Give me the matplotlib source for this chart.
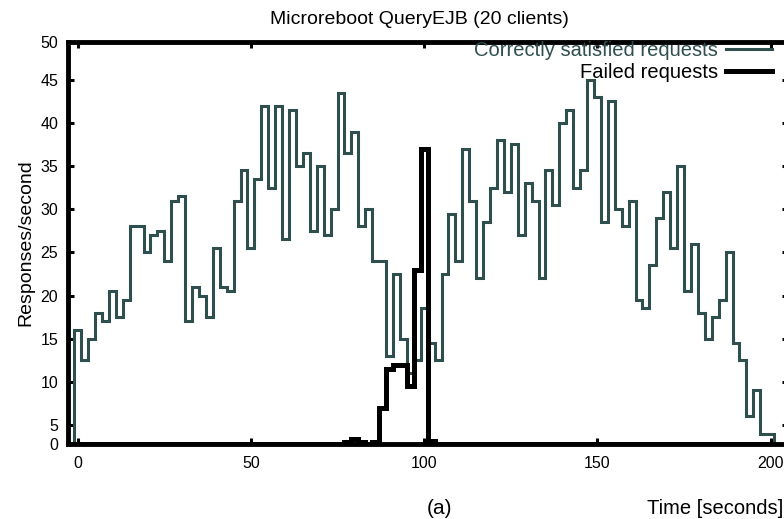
import numpy as np
import matplotlib.pyplot as plt

plt.rcParams['font.family'] = ['Liberation Sans', 'DejaVu Sans']

# time of each 2 s bin (centre), seconds
seconds = np.arange(0, 201, 2)

# correctly satisfied requests, responses/second
correct = [16, 12.5, 15, 18, 17, 20.5, 17.5, 19.5, 28, 28,
           25, 27, 27.5, 24, 31, 31.5, 17, 21, 20, 17.5,
           25.5, 21, 20.5, 31, 34.5, 25.5, 33.5, 42, 32.5, 42,
           26.5, 41.5, 35, 36.5, 27.5, 35, 27, 30, 43.5, 36.5,
           39, 28, 30, 24, 24, 13, 22.5, 15, 11, 12.5,
           18.5, 14.5, 12.5, 22.5, 29.5, 24, 37, 31, 22, 28.5,
           32.5, 38, 32, 37.5, 27, 33, 31, 22, 34.5, 30.5,
           40, 41.5, 32.5, 34.5, 45, 43, 28.5, 42.5, 30, 28,
           31, 19.5, 18.5, 23.5, 29, 32, 25.5, 35, 20.5, 26,
           18, 15, 17.5, 19.5, 25, 14.5, 12.5, 6, 9, 2.5,
           2.5]

# failed requests, responses/second
failed = [0, 0, 0, 0, 0, 0, 0, 0, 0, 0,
          0, 0, 0, 0, 0, 0, 0, 0, 0, 0,
          0, 0, 0, 0, 0, 0, 0, 0, 0, 0,
          0, 0, 0, 0, 0, 0, 0, 0, 0, 0.5,
          1.2, 0.5, 0, 0.5, 7, 11.5, 12, 12, 9.5, 23,
          37, 0.7, 0, 0, 0, 0, 0, 0, 0, 0,
          0, 0, 0, 0, 0, 0, 0, 0, 0, 0,
          0, 0, 0, 0, 0, 0, 0, 0, 0, 0,
          0, 0, 0, 0, 0, 0, 0, 0, 0, 0,
          0, 0, 0, 0, 0, 0, 0, 0, 0, 0,
          0]

edges = np.append(seconds - 1, seconds[-1] + 1)
gray = '#2F4F4F'

# the scanned y axis is squeezed at both ends
y_vals = [0, 5, 45, 50]
y_pos = [0, 19, 364, 402]
def fwd(v):
    return np.interp(v, y_vals, y_pos)
def inv(p):
    return np.interp(p, y_pos, y_vals)

fig = plt.figure(figsize=(7.84, 5.19), dpi=100)
ax = fig.add_axes([68/784, 75/519, 720/784, 402.3/519])

ax.stairs(correct, edges, baseline=0, color=gray, lw=2.2, zorder=2)
ax.stairs(failed, edges, baseline=0, color='black', lw=3.6, zorder=3)

ax.set_yscale('function', functions=(fwd, inv))
ax.set_xlim(-2.8, 205)
ax.set_ylim(0, 50)
ax.set_xticks([0, 50, 100, 150, 200])
ax.set_yticks(np.arange(0, 51, 5))
ax.tick_params(direction='in', length=4.5, width=2.2, top=True, right=True,
               labelsize=11.5, pad=7)
ax.tick_params(axis='x', pad=9)
for s in ax.spines.values():
    s.set_linewidth(3.5)

ax.set_ylabel('Responses/second', fontsize=14, labelpad=4)
fig.text(419/784, 1 - 20/519, 'Microreboot QueryEJB (20 clients)',
         ha='center', va='center', fontsize=14)
fig.text(783/784, 1 - 508/519, 'Time [seconds]', ha='right', va='center',
         fontsize=14.5)
fig.text(440/784, 1 - 518/519, '(a)', ha='center', va='bottom', fontsize=15)

h1 = plt.Line2D([], [], color=gray, lw=2.2)
h2 = plt.Line2D([], [], color='black', lw=3.6)
leg = ax.legend([h1, h2], ['Correctly satisfied requests', 'Failed requests'],
                loc='upper right', bbox_to_anchor=(772/784, 1 - 41/519),
                bbox_transform=fig.transFigure, frameon=False, markerfirst=False,
                borderpad=0, borderaxespad=0, handlelength=2.3,
                handletextpad=0.4, labelspacing=0.15, fontsize=14.5)
leg.get_texts()[0].set_color(gray)

fig.savefig('out.png', dpi=100)
